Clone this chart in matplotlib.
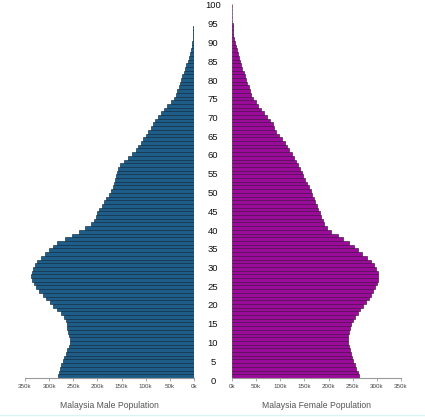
import matplotlib
matplotlib.use("Agg")
import matplotlib.pyplot as plt
from matplotlib.lines import Line2D

ages = list(range(0, 101))

male_k = [281, 279, 277, 275, 272, 269, 265, 262, 259, 257,
          257, 258, 260, 262, 264, 266, 270, 276, 284, 291,
          298, 306, 313, 320, 327, 332, 335, 337, 336, 334,
          330, 325, 317, 308, 300, 292, 283, 268, 253, 238,
          226, 214, 207, 203, 200, 196, 191, 187, 182, 177,
          172, 168, 166, 164, 162, 160, 157, 153, 146, 136,
          128, 121, 115, 110, 105, 100, 95, 90, 85, 80,
          74, 68, 62, 55, 47, 41, 38, 35, 32, 29,
          26, 24, 21, 19, 16, 13, 11, 9, 7, 5,
          3.5, 2.5, 2, 1.6, 1.3, 1.0, 0.8, 0.6, 0.5, 0.4, 0.3]

female_k = [262, 260, 257, 254, 251, 248, 246, 244, 242, 240,
            240, 241, 242, 244, 246, 250, 255, 261, 266, 272,
            278, 284, 288, 293, 297, 300, 302, 303, 302, 299,
            295, 287, 279, 269, 261, 253, 243, 230, 219, 205,
            196, 191, 188, 185, 182, 179, 175, 172, 169, 166,
            163, 159, 155, 152, 148, 145, 141, 137, 132, 128,
            124, 119, 114, 110, 104, 98, 92, 88, 84, 79,
            73, 67, 60, 54, 49, 44, 40, 37, 35, 32,
            29, 27, 24, 21, 19, 17, 15, 13, 11, 9,
            6, 4, 3, 2, 1.6, 1.3, 1.0, 0.8, 0.6, 0.5, 0.4]

x_ticks = [0, 50, 100, 150, 200, 250, 300, 350]
x_tick_labels = ["0k", "50k", "100k", "150k", "200k", "250k", "300k", "350k"]
age_ticks = list(range(0, 101, 5))
male_title = "Malaysia Male Population"
female_title = "Malaysia Female Population"

W, H = 425, 417
fig = plt.figure(figsize=(W / 100, H / 100), dpi=100)
fig.patch.set_facecolor("white")
plt.rcParams['font.family'] = ['Liberation Sans', 'DejaVu Sans']

bottom_px, top_px = 378, 4
ax_b = 1 - bottom_px / H
ax_h = (bottom_px - top_px) / H

axL = fig.add_axes([25 / W, ax_b, 169 / W, ax_h])
axR = fig.add_axes([232 / W, ax_b, 169 / W, ax_h])

axL.barh(ages, male_k, height=1.0, color="#1f5d89", edgecolor="#0e2c44", linewidth=0.45)
axR.barh(ages, female_k, height=1.0, color="#9a0b9a", edgecolor="#4a0a4a", linewidth=0.45)

axL.set_xlim(350, 0)
axR.set_xlim(0, 350)
for ax in (axL, axR):
    ax.set_ylim(-0.5, 100.5)
    ax.set_yticks([])
    for s in ("top", "right", "left"):
        ax.spines[s].set_visible(False)
    ax.spines["bottom"].set_color("#9a9a9a")
    ax.spines["bottom"].set_linewidth(0.8)
    ax.set_xticks(x_ticks)
    ax.set_xticklabels(x_tick_labels)
    ax.tick_params(axis="x", length=2.5, width=0.6, color="#9a9a9a",
                   labelsize=4.5, labelcolor="#444444", pad=1.5)
    ax.set_facecolor("none")

# centre age labels
axC = fig.add_axes([194 / W, 1 - 381 / H, 38 / W, 375 / H])
axC.set_xlim(0, 1)
axC.set_ylim(0, 100)
axC.axis("off")
for a in age_ticks:
    axC.text(0.5, a, str(a), ha="center", va="center", fontsize=6.8, color="#111111")

fig.text((25 + 194) / 2 / W, 1 - 406 / H, male_title, ha="center", va="center",
         fontsize=6.2, color="#555555")
fig.text((232 + 401) / 2 / W, 1 - 406 / H, female_title, ha="center", va="center",
         fontsize=6.2, color="#555555")

fig.add_artist(Line2D([0, 1], [1 - 415 / H, 1 - 415 / H], transform=fig.transFigure,
                      color="#d8f4f4", linewidth=1.0))

fig.savefig("out.png", dpi=100, facecolor="white")
